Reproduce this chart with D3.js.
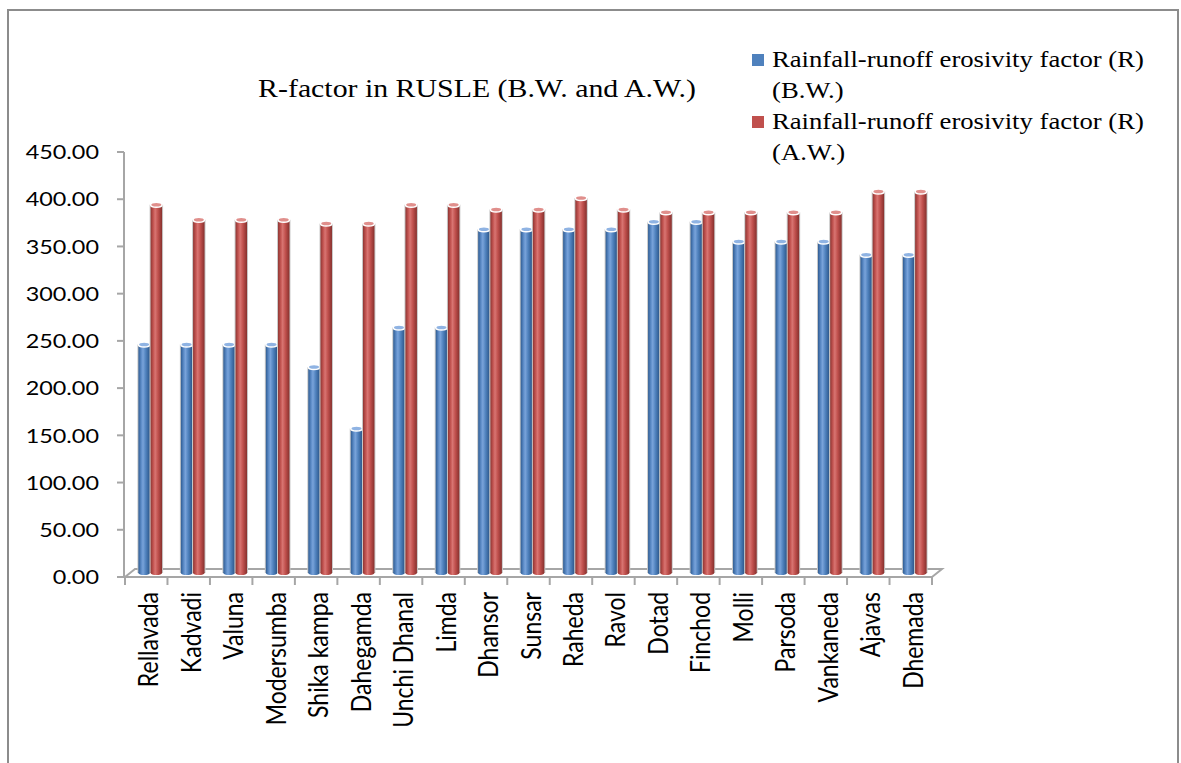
<!DOCTYPE html>
<html>
<head>
<meta charset="utf-8">
<script src="https://cdn.jsdelivr.net/npm/d3@7"></script>
<style>
  html, body { margin: 0; padding: 0; background: #fff; }
  svg { display: block; }
</style>
</head>
<body>
<svg id="chart" width="1181" height="763"></svg>
<script>
// Villages (watersheds) along the category axis
const categories = ["Rellavada", "Kadvadi", "Valuna", "Modersumba", "Shika kampa", "Dahegamda",
  "Unchi Dhanal", "Limda", "Dhansor", "Sunsar", "Raheda", "Ravol", "Dotad", "Finchod",
  "Molli", "Parsoda", "Vankaneda", "Ajavas", "Dhemada"];

// R-factor before watershed works (B.W.)
const rBW = [242, 242, 242, 242, 218, 153, 260, 260, 364, 364, 364, 364, 372, 372, 351, 351, 351, 337, 337];
// R-factor after watershed works (A.W.)
const rAW = [390, 374, 374, 374, 370, 370, 390, 390, 385, 385, 397, 385, 382, 382, 382, 382, 382, 404, 404];

const seriesNames = ["Rainfall-runoff erosivity factor (R) (B.W.)", "Rainfall-runoff erosivity factor (R) (A.W.)"];
const yTicks = [0, 50, 100, 150, 200, 250, 300, 350, 400, 450];

const svg = d3.select("#chart");
const defs = svg.append("defs");

// Text in this sheet is rendered slightly wide
const stretch = 1.17;
const sansFont = "Lato, 'Noto Sans', sans-serif";
const serifFont = "'Liberation Serif', 'Times New Roman', serif";

// Outer chart frame
svg.append("rect").attr("x", 8).attr("y", 10).attr("width", 1170).attr("height", 770)
  .attr("fill", "none").attr("stroke", "#8c8c8c").attr("stroke-width", 2);

// Scales
const x = d3.scaleBand().domain(categories).range([125, 932]);
const y = d3.scaleLinear().domain([0, 450]).range([577, 152]);
const keys = ["bw", "aw"];
const x1 = d3.scaleBand().domain(keys).range([0, x.bandwidth()]).paddingInner(0.06).paddingOuter(0.77);

// Depth offset of the 3-D floor
const depthX = 10, depthY = 8;
const barDX = 4, barDY = 4;

// Cylinder shading gradients
const palette = {
  bw: { stops: ["#2f5c92", "#5d8cc8", "#79a3da", "#4f81bd", "#2b5588"], top: "#8fb3e3" },
  aw: { stops: ["#8f3532", "#c65754", "#d87572", "#c0504d", "#86302d"], top: "#e08f8c" }
};
keys.forEach(k => {
  const g = defs.append("linearGradient").attr("id", "grad-" + k)
    .attr("x1", "0%").attr("x2", "100%").attr("y1", "0%").attr("y2", "0%");
  const offs = [0, 0.25, 0.4, 0.65, 1];
  palette[k].stops.forEach((c, i) => g.append("stop").attr("offset", offs[i]).attr("stop-color", c));
});

// Floor (3-D base)
const x0 = 125, xEnd = 932, yFloor = y(0);
svg.append("path")
  .attr("d", `M${x0},${yFloor} L${x0 + depthX},${yFloor - depthY} L${xEnd + depthX},${yFloor - depthY} L${xEnd},${yFloor}`)
  .attr("fill", "none").attr("stroke", "#a6a6a6").attr("stroke-width", 2);

// Y axis
svg.append("line").attr("x1", x0 - 1).attr("x2", x0 - 1).attr("y1", y(450)).attr("y2", yFloor)
  .attr("stroke", "#a6a6a6").attr("stroke-width", 2);
svg.selectAll(".ytick").data(yTicks).enter().append("line")
  .attr("x1", x0 - 8).attr("x2", x0 - 1).attr("y1", d => y(d)).attr("y2", d => y(d))
  .attr("stroke", "#a6a6a6").attr("stroke-width", 2);
svg.selectAll(".ylab").data(yTicks).enter().append("text")
  .attr("transform", d => `translate(99,${y(d)}) scale(${stretch},1)`)
  .attr("dy", "0.36em")
  .attr("text-anchor", "end")
  .style("font-family", sansFont).style("font-size", "20px").attr("fill", "#000")
  .text(d => d3.format(".2f")(d));

// X axis front line and ticks
svg.append("line").attr("x1", x0).attr("x2", xEnd).attr("y1", yFloor).attr("y2", yFloor)
  .attr("stroke", "#a6a6a6").attr("stroke-width", 2);
const bounds = categories.map(c => x(c)).concat([xEnd]);
svg.selectAll(".xtick").data(bounds).enter().append("line")
  .attr("x1", d => d).attr("x2", d => d).attr("y1", yFloor).attr("y2", yFloor + 8)
  .attr("stroke", "#a6a6a6").attr("stroke-width", 2);

// Category labels (rotated)
svg.selectAll(".xlab").data(categories).enter().append("text")
  .attr("transform", d => `translate(${x(d) + x.bandwidth() / 2 + 12},592) scale(${stretch},1) rotate(-90)`)
  .attr("text-anchor", "end")
  .style("font-family", sansFont).style("font-size", "23px").attr("fill", "#000")
  .text(d => d);

// Bars drawn as cylinders
const rows = categories.map((c, i) => ({ cat: c, bw: rBW[i], aw: rAW[i] }));
const groups = svg.selectAll(".cat").data(rows).enter().append("g")
  .attr("transform", d => `translate(${x(d.cat) + barDX},${-barDY})`);

keys.forEach(k => {
  const w = x1.bandwidth();
  const bars = groups.append("g");
  // faint side shadow
  bars.append("rect")
    .attr("x", x1(k) - 1).attr("width", w + 2)
    .attr("y", d => y(d[k])).attr("height", d => y(0) - y(d[k]))
    .attr("fill", "#c9c9c9");
  bars.append("rect")
    .attr("x", x1(k)).attr("width", w)
    .attr("y", d => y(d[k])).attr("height", d => y(0) - y(d[k]))
    .attr("fill", `url(#grad-${k})`);
  // bottom rounding
  bars.append("ellipse")
    .attr("cx", x1(k) + w / 2).attr("cy", y(0)).attr("rx", w / 2).attr("ry", 2)
    .attr("fill", `url(#grad-${k})`);
  // top cap
  bars.append("ellipse")
    .attr("cx", x1(k) + w / 2).attr("cy", d => y(d[k])).attr("rx", w / 2).attr("ry", 2.5)
    .attr("fill", palette[k].top).attr("stroke", "#ffffff").attr("stroke-width", 1.5);
});

// Title
svg.append("text").attr("transform", `translate(477,97) scale(${stretch},1)`).attr("text-anchor", "middle")
  .style("font-family", serifFont).style("font-size", "25.5px")
  .attr("fill", "#000").text("R-factor in RUSLE (B.W. and A.W.)");

// Legend
const legendColors = ["#4f81bd", "#c0504d"];
const legend = svg.append("g").attr("transform", "translate(752,0)");
const legendLines = [["Rainfall-runoff erosivity factor (R)", "(B.W.)"], ["Rainfall-runoff erosivity factor (R)", "(A.W.)"]];
legendLines.forEach((lines, i) => {
  const top = 67 + i * 62;
  legend.append("rect").attr("x", 0).attr("y", top - 13).attr("width", 12).attr("height", 12)
    .attr("fill", legendColors[i]);
  [0, 1].forEach(j => {
    legend.append("text")
      .attr("transform", `translate(20,${top + j * 31}) scale(${stretch},1)`)
      .style("font-family", serifFont).style("font-size", "22.8px")
      .attr("fill", "#000").text(lines[j]);
  });
});
</script>
</body>
</html>
